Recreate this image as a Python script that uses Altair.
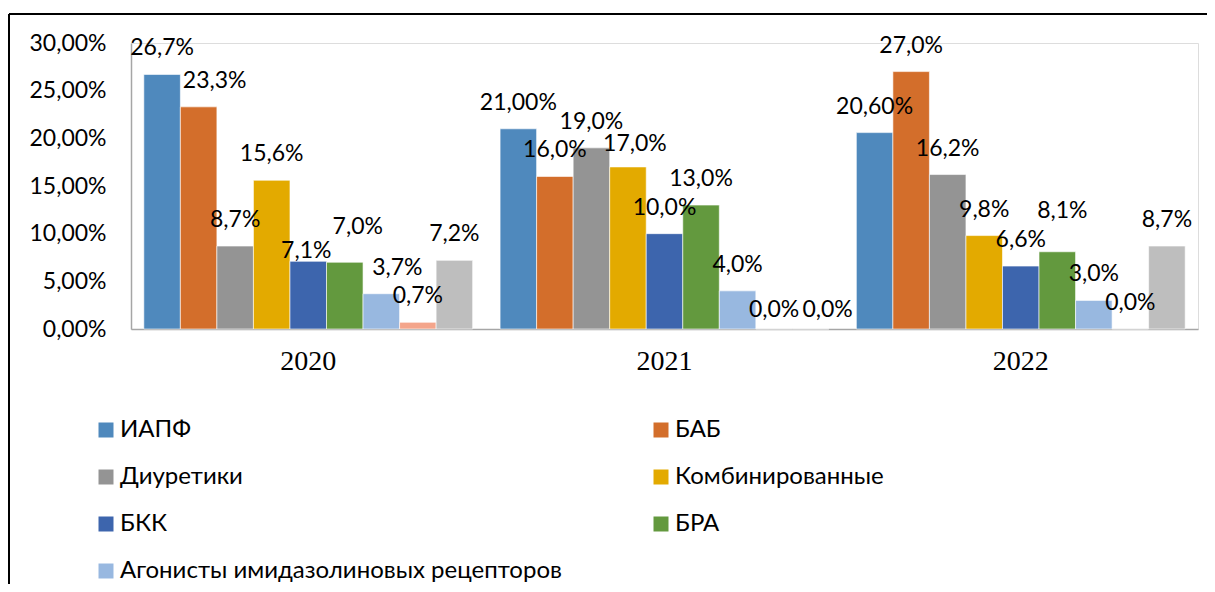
import altair as alt
import pandas as pd

years = ["2020", "2021", "2022"]
series = ["ИАПФ", "БАБ", "Диуретики", "Комбинированные", "БКК", "БРА",
          "Агонисты имидазолиновых рецепторов", "Прочие", "Другие"]
colors = ["#4F89BD", "#D36E2B", "#949494", "#E3AA00", "#3D65AD", "#63993E",
          "#98B8E0", "#F4A58B", "#BEBEBE"]

values_2020 = [26.7, 23.3, 8.7, 15.6, 7.1, 7.0, 3.7, 0.7, 7.2]
values_2021 = [21.0, 16.0, 19.0, 17.0, 10.0, 13.0, 4.0, 0.0, 0.0]
values_2022 = [20.6, 27.0, 16.2, 9.8, 6.6, 8.1, 3.0, 0.0, 8.7]

labels_2020 = ["26,7%", "23,3%", "8,7%", "15,6%", "7,1%", "7,0%", "3,7%", "0,7%", "7,2%"]
labels_2021 = ["21,00%", "16,0%", "19,0%", "17,0%", "10,0%", "13,0%", "4,0%", "0,0%", "0,0%"]
labels_2022 = ["20,60%", "27,0%", "16,2%", "9,8%", "6,6%", "8,1%", "3,0%", "0,0%", "8,7%"]

# label nudges (dx, dy) in pixels, as placed in the original chart
nudges = {
    ("2020", "БАБ"): (16, 0),
    ("2020", "БКК"): (-2, 16),
    ("2020", "БРА"): (13, -9),
    ("2020", "Агонисты имидазолиновых рецепторов"): (16, 0),
    ("2021", "Комбинированные"): (7, 3),
    ("2021", "Прочие"): (0, 7),
    ("2021", "Другие"): (17, 7),
    ("2022", "БРА"): (5, -15),
}

rows = []
for y, vals, labs in zip(years, [values_2020, values_2021, values_2022],
                         [labels_2020, labels_2021, labels_2022]):
    for s, v, l in zip(series, vals, labs):
        rows.append({"year": y, "series": s, "value": v, "label": l,
                     "nudge": "%d_%d" % nudges.get((y, s), (0, 0))})
df = pd.DataFrame(rows)

W, H = 1067, 286
FONT = "Lato"

x_enc = alt.X("year:N", sort=years,
              scale=alt.Scale(paddingInner=0.077, paddingOuter=0.036),
              axis=alt.Axis(title=None, labelAngle=0, ticks=False,
                            domainColor="#A6A6A6", domainWidth=1.5,
                            labelFont="Liberation Serif", labelFontSize=28,
                            labelColor="#000000", labelPadding=18))
xo_enc = alt.XOffset("series:N", sort=series,
                     scale=alt.Scale(paddingInner=0, paddingOuter=0))
y_enc = alt.Y("value:Q", scale=alt.Scale(domain=[0, 30], nice=False),
              axis=alt.Axis(title=None, values=[0, 5, 10, 15, 20, 25, 30],
                            ticks=False, grid=False, domainColor="#A6A6A6",
                            domainWidth=1.5,
                            labelExpr="replace(format(datum.value, '.2f'), '.', ',') + '%'",
                            labelFont=FONT, labelFontSize=23, labelColor="#000000",
                            labelPadding=25))

bars = alt.Chart(df).mark_bar(stroke="#FFFFFF", strokeWidth=0.6).encode(
    x=x_enc, xOffset=xo_enc, y=y_enc,
    color=alt.Color("series:N", sort=series,
                    scale=alt.Scale(domain=series, range=colors),
                    legend=alt.Legend(
                        title=None, values=series[:7], orient="none",
                        legendX=-37, legendY=375, columns=2, direction="horizontal",
                        symbolType="square", symbolSize=225, symbolStrokeWidth=0,
                        labelFont=FONT, labelFontSize=24, labelColor="#000000",
                        labelOffset=2, columnPadding=87, rowPadding=23,
                        labelLimit=700)),
)

layers = [bars]
for key in sorted(set(df["nudge"])):
    dx, dy = [int(t) for t in key.split("_")]
    layers.append(
        alt.Chart(df).transform_filter(alt.datum.nudge == key)
        .mark_text(font=FONT, fontSize=23, color="#000000", baseline="alphabetic",
                   align="center", dx=dx, dy=-19 + dy)
        .encode(x=alt.X("year:N", sort=years), xOffset=alt.XOffset("series:N", sort=series),
                y="value:Q", text="label:N")
    )

frame_df = pd.DataFrame({"k": [0]})
frame_left = alt.Chart(frame_df).mark_rule(color="#000000", strokeWidth=2).encode(
    x=alt.value(-122), y=alt.value(-29), y2=alt.value(H + 300))
frame_top = alt.Chart(frame_df).mark_rule(color="#000000", strokeWidth=2).encode(
    x=alt.value(-122), x2=alt.value(W + 40), y=alt.value(-29))
layers += [frame_left, frame_top]

chart = alt.layer(*layers).properties(
    width=W, height=H,
    autosize=alt.AutoSizeParams(type="none"),
    padding={"left": 123, "top": 35, "right": 9, "bottom": 255},
).configure_view(stroke=None).configure(background="#FFFFFF")

chart.save("out.html", embed_options={"renderer": "svg", "actions": False})
